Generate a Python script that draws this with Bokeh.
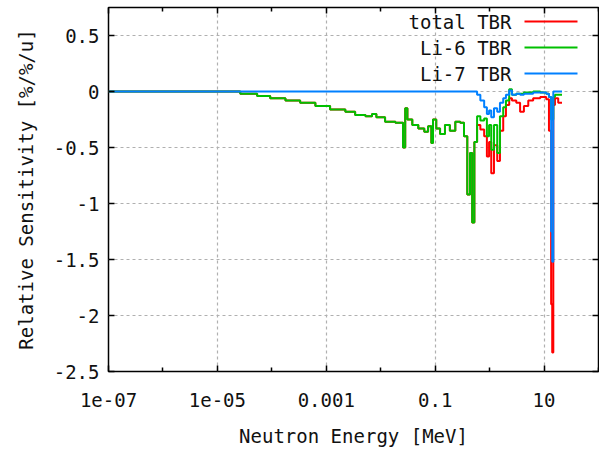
from bokeh.plotting import figure
from bokeh.models import (Range1d, FixedTicker, CustomJSTickFormatter, LinearAxis,
                          LogAxis, Label, BoxAnnotation)
from bokeh.embed import file_html
from bokeh.resources import INLINE

# ---------------- data ----------------
log10_energy = [-7.0, -4.58, -4.27, -4.03, -3.75, -3.48, -3.20, -2.93, -2.65, -2.47,
                -2.28, -2.16, -2.08, -1.92, -1.73, -1.59, -1.55, -1.51, -1.42, -1.31,
                -1.20, -1.13, -1.07, -1.04, -0.98, -0.91, -0.82, -0.73, -0.63, -0.54,
                -0.47, -0.41, -0.36, -0.32, -0.28, -0.23, -0.17, -0.10, -0.05, -0.01,
                0.03, 0.08, 0.14, 0.19, 0.25, 0.30, 0.36, 0.41, 0.49, 0.56,
                0.63, 0.71, 0.80, 0.93, 1.04, 1.09, 1.13, 1.15, 1.17, 1.20,
                1.26, 1.33]

total_tbr = [0.0, -0.02, -0.04, -0.06, -0.08, -0.10, -0.13, -0.16, -0.18, -0.21,
             -0.22, -0.20, -0.23, -0.27, -0.28, -0.50, -0.15, -0.25, -0.30, -0.33,
             -0.36, -0.31, -0.46, -0.25, -0.33, -0.38, -0.30, -0.35, -0.27, -0.28,
             -0.40, -0.92, -0.55, -1.17, -0.45, -0.30, -0.34, -0.40, -0.58, -0.45,
             -0.73, -0.48, -0.62, -0.35, -0.22, -0.12, -0.06, -0.08, -0.10, -0.18,
             -0.13, -0.08, -0.06, -0.05, -0.07, -0.35, -1.90, -2.33, -0.12, -0.06,
             -0.10, -0.10]

li6_tbr = [0.0, -0.02, -0.04, -0.06, -0.08, -0.10, -0.13, -0.16, -0.18, -0.21,
           -0.22, -0.20, -0.23, -0.27, -0.28, -0.50, -0.15, -0.25, -0.30, -0.33,
           -0.36, -0.31, -0.46, -0.25, -0.33, -0.38, -0.30, -0.35, -0.27, -0.28,
           -0.40, -0.92, -0.55, -1.17, -0.45, -0.22, -0.26, -0.24, -0.40, -0.30,
           -0.52, -0.30, -0.55, -0.22, -0.14, -0.08, 0.02, -0.03, -0.02, -0.02,
           -0.01, -0.01, 0.0, -0.01, -0.02, -0.05, -0.25, -0.25, -0.05, -0.03,
           -0.03, -0.03]

li7_tbr = [0.0, 0.0, 0.0, 0.0, 0.0, 0.0, 0.0, 0.0, 0.0, 0.0,
           0.0, 0.0, 0.0, 0.0, 0.0, 0.0, 0.0, 0.0, 0.0, 0.0,
           0.0, 0.0, 0.0, 0.0, 0.0, 0.0, 0.0, 0.0, 0.0, 0.0,
           0.0, 0.0, 0.0, 0.0, 0.0, -0.03, -0.08, -0.14, -0.20, -0.17,
           -0.23, -0.15, -0.18, -0.10, -0.06, -0.03, 0.01, -0.03, -0.02, -0.03,
           -0.02, -0.02, -0.01, -0.01, -0.02, -0.05, -1.25, -1.52, 0.0, 0.0,
           0.0, 0.0]

series_names = ["total TBR", "Li-6 TBR", "Li-7 TBR"]
series_colors = ["#ff0000", "#00c000", "#0080ff"]

x_tick_values = [1e-7, 1e-5, 1e-3, 1e-1, 10.0]
x_tick_labels = ["1e-07", "1e-05", "0.001", "0.1", "10"]
x_minor_values = [1e-6, 1e-4, 1e-2, 1.0, 100.0]
y_tick_values = [-2.5, -2.0, -1.5, -1.0, -0.5, 0.0, 0.5]
y_tick_labels = ["-2.5", "-2", "-1.5", "-1", "-0.5", "0", "0.5"]

energy = [10 ** v for v in log10_energy]

FONT = "DejaVu Sans Mono"
FS = "19px"

p = figure(width=599, height=449, x_axis_type="log",
           x_range=Range1d(1e-7, 100), y_range=Range1d(-2.5, 0.75),
           output_backend="svg", toolbar_location=None,
           min_border_left=108, min_border_right=1, min_border_top=7,
           min_border_bottom=75)
p.background_fill_color = "white"
p.border_fill_color = "white"
p.outline_line_color = "#000000"
p.outline_line_width = 1.5

fmt_js = """
for (let i = 0; i < vals.length; i++) {
  if (Math.abs(vals[i] - tick) <= 1e-9 * Math.abs(vals[i]) + 1e-12) return labs[i];
}
return " ";
"""

xt = FixedTicker(ticks=x_tick_values, minor_ticks=x_minor_values)
yt = FixedTicker(ticks=y_tick_values, minor_ticks=[])


def style_axis(ax, ticker, show_labels, vals=None, labs=None):
    ax.ticker = ticker
    ax.axis_line_color = None
    ax.major_tick_in = 6
    ax.major_tick_out = 0
    ax.minor_tick_in = 4
    ax.minor_tick_out = 0
    ax.major_tick_line_color = "#000000"
    ax.minor_tick_line_color = "#000000"
    ax.major_tick_line_width = 1.5
    ax.minor_tick_line_width = 1.5
    ax.major_label_text_font = FONT
    ax.major_label_text_color = "#111111"
    ax.axis_label_text_font = FONT
    ax.axis_label_text_font_size = FS
    ax.axis_label_text_font_style = "normal"
    ax.axis_label_text_color = "#111111"
    if show_labels:
        ax.major_label_text_font_size = FS
        ax.formatter = CustomJSTickFormatter(args=dict(vals=vals, labs=labs), code=fmt_js)
    else:
        ax.major_label_text_font_size = "1px"
        ax.major_label_text_alpha = 0.0
        ax.major_label_standoff = 0


style_axis(p.xaxis[0], xt, True, x_tick_values, x_tick_labels)
p.xaxis[0].major_label_standoff = 21
p.xaxis[0].axis_label = "Neutron Energy [MeV]"
p.xaxis[0].axis_label_standoff = 15

style_axis(p.yaxis[0], yt, True, y_tick_values, y_tick_labels)
p.yaxis[0].major_label_standoff = 9
p.yaxis[0].axis_label = "Relative Sensitivity [%/%/u]"
p.yaxis[0].axis_label_standoff = 14

top_ax = LogAxis()
style_axis(top_ax, FixedTicker(ticks=x_tick_values, minor_ticks=x_minor_values), False)
p.add_layout(top_ax, "above")
right_ax = LinearAxis()
style_axis(right_ax, FixedTicker(ticks=y_tick_values, minor_ticks=[]), False)
p.add_layout(right_ax, "right")

p.xgrid.ticker = xt
p.ygrid.ticker = yt
for g in (p.xgrid[0], p.ygrid[0]):
    g.grid_line_color = "#b0b0b0"
    g.grid_line_dash = "3 3"
    g.grid_line_width = 1.2

for vals, name, col in zip([total_tbr, li6_tbr, li7_tbr], series_names, series_colors):
    p.step(energy, vals, mode="after", line_color=col, line_width=2)

# legend drawn manually (label left, sample right), screen units relative to frame
row_y = [350, 324, 298]
for name, col, yy in zip(series_names, series_colors, row_y):
    p.add_layout(Label(x=403, y=yy, x_units="screen", y_units="screen", text=name,
                       text_align="right", text_baseline="middle",
                       text_font=FONT, text_font_size=FS, text_color="#111111"))
    p.add_layout(BoxAnnotation(left=416, right=469, bottom=yy - 1, top=yy + 1,
                               left_units="screen", right_units="screen",
                               bottom_units="screen", top_units="screen",
                               fill_color=col, fill_alpha=1.0, line_color=None))

open("out.html", "w").write(file_html(p, INLINE))
